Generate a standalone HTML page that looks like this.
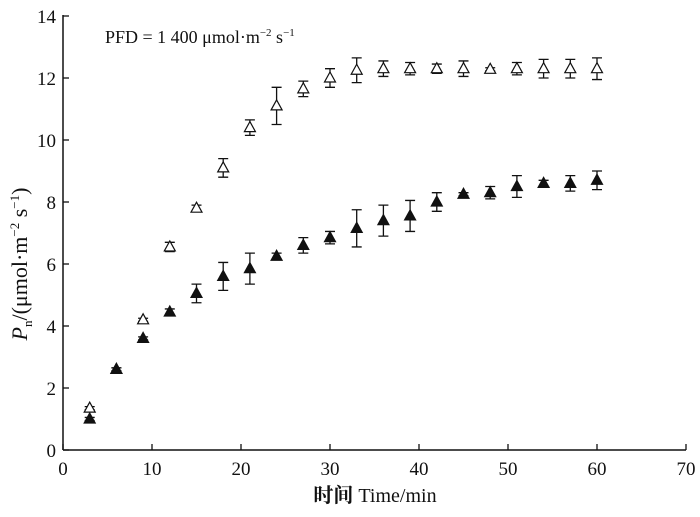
<!DOCTYPE html>
<html><head><meta charset="utf-8"><style>
body{margin:0;background:#fff}
text{font-family:"Liberation Serif","Noto Serif CJK SC",serif;fill:#111}
</style></head><body>
<svg id="c" width="700" height="512">
</svg>
<script>
const times=[3,6,9,12,15,18,21,24,27,30,33,36,39,42,45,48,51,54,57,60];
const openVals=[1.35,2.6,4.2,6.55,7.8,9.1,10.4,11.1,11.65,12.0,12.25,12.3,12.3,12.3,12.3,12.28,12.3,12.3,12.3,12.3];
const openErr=[0.05,0.05,0.05,0.15,0.1,0.3,0.25,0.6,0.25,0.3,0.4,0.25,0.2,0.15,0.25,0.05,0.2,0.3,0.3,0.35];
const closedVals=[1.0,2.6,3.6,4.45,5.05,5.6,5.85,6.25,6.6,6.85,7.15,7.4,7.55,8.0,8.25,8.3,8.5,8.6,8.6,8.7];
const closedErr=[0.05,0.05,0.05,0.1,0.3,0.45,0.5,0.1,0.25,0.2,0.6,0.5,0.5,0.3,0.05,0.2,0.35,0.1,0.25,0.3];
const xTicks=[0,10,20,30,40,50,60,70];
const yTicks=[0,2,4,6,8,10,12,14];
const svg=document.getElementById('c');
const NS='http://www.w3.org/2000/svg';
const X=v=>63+v*(686-63)/70;
const Y=v=>450-v*31;
function el(t,a,txt){const e=document.createElementNS(NS,t);for(const k in a)e.setAttribute(k,a[k]);if(txt!==undefined)e.textContent=txt;svg.appendChild(e);return e;}
let e;
e=el('line',{x1:63,y1:450,x2:686,y2:450,stroke:'#111','stroke-width':1.5});


e=el('line',{x1:63,y1:450,x2:63,y2:15,stroke:'#111','stroke-width':1.5});


xTicks.forEach(t=>{
 e=el('line',{x1:X(t),y1:450,x2:X(t),y2:444,stroke:'#111','stroke-width':1.3});
 
 
 e=el('text',{x:X(t),y:475,'text-anchor':'middle','font-size':19},t);
 
 
});
yTicks.forEach(t=>{
 e=el('line',{x1:63,y1:Y(t),x2:69,y2:Y(t),stroke:'#111','stroke-width':1.3});
 
 
 e=el('text',{x:56,y:Y(t)+7,'text-anchor':'end','font-size':19},t);
 
 
});
function series(vals,errs,fill,name){
 times.forEach((t,i)=>{
  const x=X(t),y=Y(vals[i]),y1=Y(vals[i]+errs[i]),y2=Y(vals[i]-errs[i]);
  e=el('path',{d:`M${x},${y1}V${y2}M${x-5},${y1}H${x+5}M${x-5},${y2}H${x+5}`,stroke:'#111','stroke-width':1.3,fill:'none'});
  
  
  e=el('path',{d:`M${x},${y-6}L${x+5.5},${y+4}L${x-5.5},${y+4}Z`,stroke:'#111','stroke-width':1.2,fill:fill});
  
  
 });
}
series(openVals,openErr,'#fff','open-series');
series(closedVals,closedErr,'#111','closed-series');
e=el('text',{x:105,y:43,'font-size':18},'');
e.innerHTML='PFD = 1 400 μmol·m<tspan dy="-7" font-size="11">−2</tspan><tspan dy="7"> s</tspan><tspan dy="-7" font-size="11">−1</tspan>';


e=el('text',{x:375,y:502,'text-anchor':'middle','font-size':20},'');
e.innerHTML='<tspan font-weight="bold">时间</tspan> Time/min';


e=el('text',{x:0,y:0,'text-anchor':'middle','font-size':22,transform:'translate(27,264) rotate(-90)'},'');
e.innerHTML='<tspan font-style="italic">P</tspan><tspan dy="5" font-size="13">n</tspan><tspan dy="-5">/(μmol·m</tspan><tspan dy="-8" font-size="13">−2</tspan><tspan dy="8"> s</tspan><tspan dy="-8" font-size="13">−1</tspan><tspan dy="8">)</tspan>';


</script>
</body></html>
